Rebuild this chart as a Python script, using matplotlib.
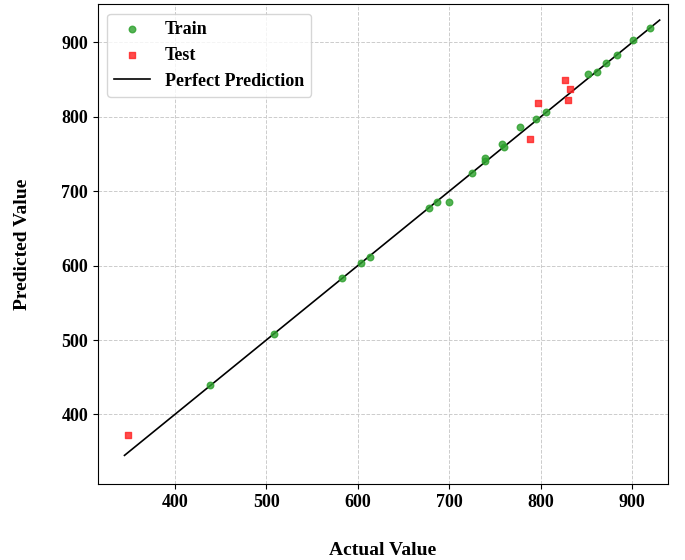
import matplotlib
matplotlib.use("Agg")
import matplotlib.pyplot as plt
import numpy as np

plt.rcParams["font.family"] = "Liberation Serif"
plt.rcParams["font.weight"] = "bold"

train_actual = [438, 508, 583, 604, 613, 678, 687, 700, 725, 739, 739, 758, 760, 777, 795, 806, 852, 861, 871, 883, 901, 919]
train_pred   = [439, 508, 583, 603, 612, 678, 685, 685, 724, 745, 740, 763, 759, 786, 797, 807, 858, 860, 872, 883, 903, 919]
test_actual = [349, 788, 797, 827, 832, 830]
test_pred   = [373, 770, 818, 850, 837, 822]
line_range = [345, 930]

fig = plt.figure(figsize=(6.85, 5.6), dpi=100)
ax = fig.add_axes([0.143, 0.135, 0.832, 0.857])
ax.scatter(train_actual, train_pred, color="#2ca02c", alpha=0.8, s=22, label="Train", zorder=3)
ax.scatter(test_actual, test_pred, color="#ff2020", alpha=0.8, s=22, marker="s", label="Test", zorder=3)
ax.plot(line_range, line_range, color="black", lw=1.2, label="Perfect Prediction", zorder=2)
ax.set_xlim(316, 939)
ax.set_ylim(306, 951)
ax.set_xticks([400, 500, 600, 700, 800, 900])
ax.set_yticks([400, 500, 600, 700, 800, 900])
ax.grid(True, linestyle="--", color="#cccccc", lw=0.7)
ax.tick_params(labelsize=13)
for l in ax.get_xticklabels() + ax.get_yticklabels():
    l.set_fontweight("bold")
ax.set_xlabel("Actual Value", fontsize=14, fontweight="bold", labelpad=22)
ax.set_ylabel("Predicted Value", fontsize=14, fontweight="bold", labelpad=22)
ax.legend(loc="upper left", fontsize=13, prop={"weight": "bold", "size": 13})
fig.savefig("out.png", dpi=100)
